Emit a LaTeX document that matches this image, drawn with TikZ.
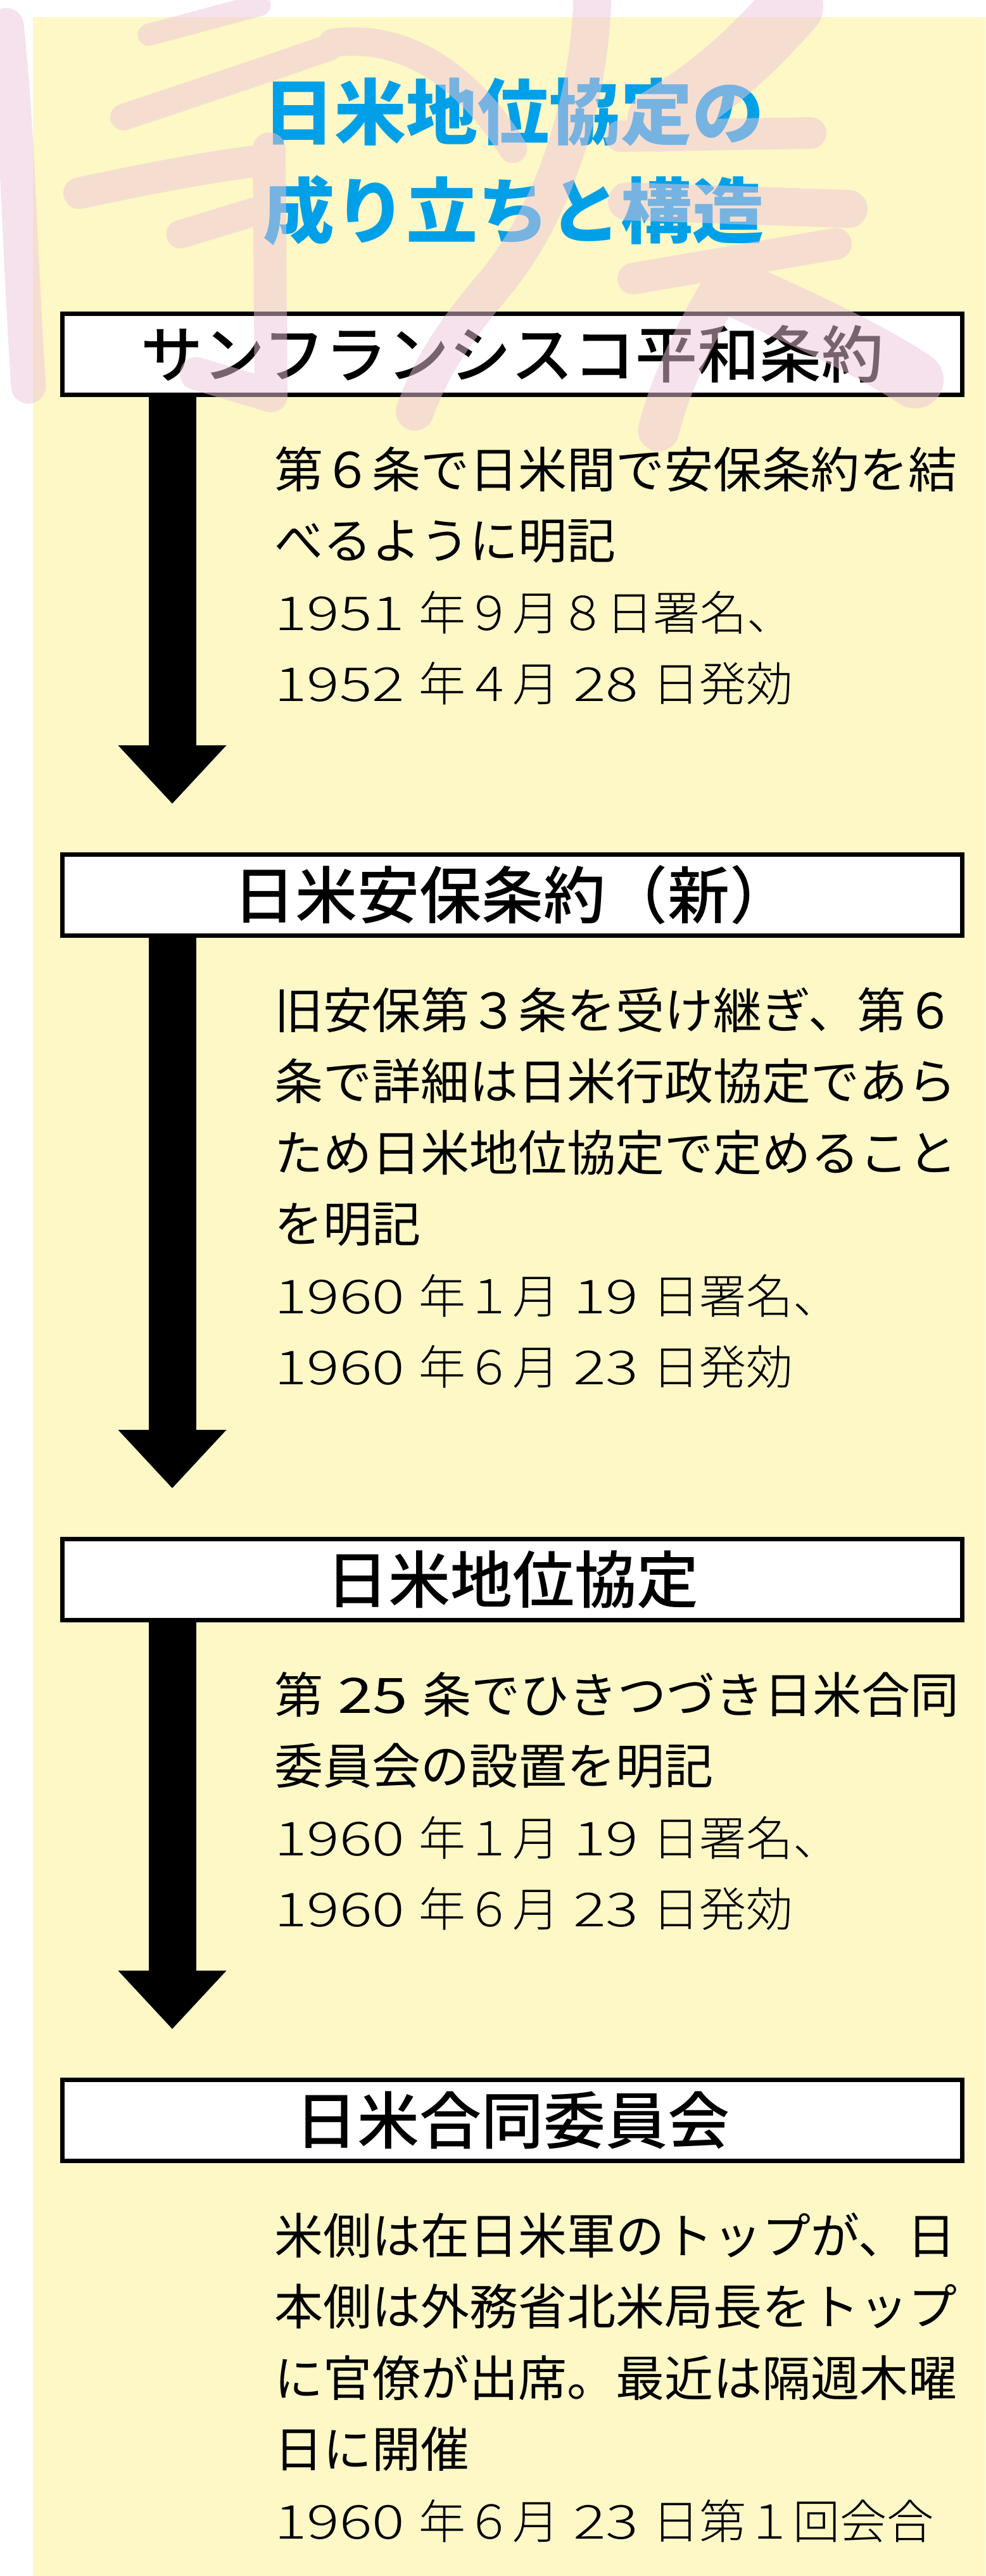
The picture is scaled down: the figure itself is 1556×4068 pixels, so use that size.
\documentclass[tikz,border=0pt]{standalone}
\usepackage{fontspec}
\setmainfont{Noto Sans CJK JP}
\IfFontExistsTF{Noto Sans CJK JP Medium}
  {\newfontfamily\medfont{Noto Sans CJK JP Medium}}
  {\newcommand\medfont{}}
\IfFontExistsTF{Noto Sans CJK JP Light}
  {\newfontfamily\lightfont{Noto Sans CJK JP Light}}
  {\newcommand\lightfont{}}
\usetikzlibrary{arrows.meta}
\definecolor{paper}{HTML}{FDF8C6}
\definecolor{ttlblue}{HTML}{00A0E9}
\definecolor{wmpink}{HTML}{EFC6DB}
\newcommand\nm[1]{\scalebox{1.3}[1]{#1}}
\newcommand\gp{\hspace{0.3em}}
\begin{document}
\begin{tikzpicture}[x=1pt,y=-1pt,
  tbox/.style={draw=black, line width=7pt, fill=white, minimum width=1421pt, minimum height=128pt, inner sep=0pt, font=\fontsize{98}{100}\selectfont\medfont},
  ttl/.style={text=ttlblue, inner sep=0pt, anchor=base, font=\fontsize{113}{120}\selectfont\bfseries},
  body/.style={inner sep=0pt, anchor=base west, font=\fontsize{77}{90}\selectfont},
  date/.style={inner sep=0pt, anchor=base west, font=\fontsize{74}{90}\selectfont\lightfont},
  flow/.style={line width=75pt, -{Triangle[length=92pt,width=171pt,line width=0pt]}},
  wm/.style={draw=wmpink, line cap=round, line join=round}
]
\useasboundingbox (0,0) rectangle (1556,4068);
% page and panel
\fill[white] (0,0) rectangle (1556,4068);
\fill[paper] (52,27) rectangle (1556,4068);

% title
\node[ttl] (title1) at (811,219) {日米地位協定の};
\node[ttl] (title2) at (811,375) {成り立ちと構造};

% boxes
\node[tbox] (b1) at (809,559.5) {サンフランシスコ平和条約};
\node[tbox] (b2) at (809,1413) {日米安保条約（新）};
\node[tbox] (b3) at (809,2494.5) {日米地位協定};
\node[tbox] (b4) at (809,3348.5) {日米合同委員会};

% arrows
\coordinate (t1) at (272,1269);
\coordinate (t2) at (272,2350);
\coordinate (t3) at (272,3204);
\draw[flow] (b1.south -| t1) -- (t1);
\draw[flow] (b2.south -| t2) -- (t2);
\draw[flow] (b3.south -| t3) -- (t3);

% section 1
\node[body] (s1a) at (433,770) {第６条で日米間で安保条約を結};
\node[body] (s1b) at (433,882.5) {べるように明記};
\node[date] (s1c) at (433,995) {\nm{1951}\gp 年９月８日署名、};
\node[date] (s1d) at (433,1107.5) {\nm{1952}\gp 年４月\gp\nm{28}\gp 日発効};

% section 2
\node[body] (s2a) at (433,1624) {旧安保第３条を受け継ぎ、第６};
\node[body] (s2b) at (433,1736.5) {条で詳細は日米行政協定であら};
\node[body] (s2c) at (433,1849) {ため日米地位協定で定めること};
\node[body] (s2d) at (433,1961.5) {を明記};
\node[date] (s2e) at (433,2074) {\nm{1960}\gp 年１月\gp\nm{19}\gp 日署名、};
\node[date] (s2f) at (433,2186.5) {\nm{1960}\gp 年６月\gp\nm{23}\gp 日発効};

% section 3
\node[body] (s3a) at (433,2705) {第\gp\nm{25}\gp 条でひきつづき日米合同};
\node[body] (s3b) at (433,2817.5) {委員会の設置を明記};
\node[date] (s3c) at (433,2930) {\nm{1960}\gp 年１月\gp\nm{19}\gp 日署名、};
\node[date] (s3d) at (433,3042.5) {\nm{1960}\gp 年６月\gp\nm{23}\gp 日発効};

% section 4
\node[body] (s4a) at (433,3559) {米側は在日米軍のトップが、日};
\node[body] (s4b) at (433,3671.5) {本側は外務省北米局長をトップ};
\node[body] (s4c) at (433,3784) {に官僚が出席。最近は隔週木曜};
\node[body] (s4d) at (433,3896.5) {日に開催};
\node[date] (s4e) at (433,4009) {\nm{1960}\gp 年６月\gp\nm{23}\gp 日第１回会合};

% calligraphic watermark (translucent)
\begin{scope}[transparency group, opacity=0.5]
  \clip (0,0) rectangle (1556,4068);
  \draw[wm, line width=55pt] (10,40) .. controls (28,200) and (30,380) .. (45,610);
  \draw[wm, line width=35pt] (235,55) -- (410,8);
  \draw[wm, line width=42pt] (195,185) .. controls (300,150) and (420,110) .. (520,75);
  \draw[wm, line width=50pt] (125,305) .. controls (220,285) and (320,265) .. (400,255);
  \draw[wm, line width=45pt] (285,370) -- (400,335);
  \draw[wm, line width=52pt] (425,235) -- (428,625) -- (310,590);
  \draw[wm, line width=45pt] (525,68) .. controls (610,55) and (720,90) .. (810,235);
  \draw[wm, line width=60pt] (935,5) .. controls (930,150) and (880,330) .. (780,450) .. controls (720,520) and (680,580) .. (655,650);
  \draw[wm, line width=100pt] (1250,10) .. controls (1180,90) and (1120,140) .. (1040,190);
  \draw[wm, line width=50pt] (980,215) -- (1280,210);
  \draw[wm, line width=60pt] (990,318) -- (1340,330);
  \draw[wm, line width=50pt] (1000,440) -- (1320,385);
  \draw[wm, line width=90pt] (1160,455) .. controls (1260,500) and (1370,550) .. (1445,600);
  \draw[wm, line width=65pt] (1160,420) .. controls (1100,520) and (1060,600) .. (1040,680);
\end{scope}
\end{tikzpicture}
\end{document}
